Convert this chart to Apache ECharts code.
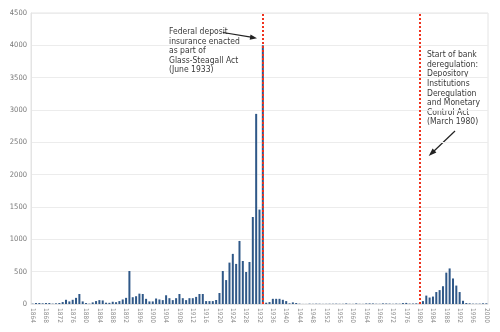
<!DOCTYPE html>
<html><head><meta charset="utf-8">
<script src="https://cdn.jsdelivr.net/npm/echarts@6/dist/echarts.min.js"></script>
<style>html,body{margin:0;padding:0;background:#fff}#c{width:500px;height:332px}</style>
</head><body><div id="c"></div>
<script>
const startYear = 1864, endYear = 2000;
const years = [];
for (let y = startYear; y <= endYear; y++) years.push(String(y));

const failures1864_1903 = [5,15,15,10,15,15,5,10,15,30, 65,40,65,95,155,40,15,5,25,45, 60,55,20,18,35,28,45,70,95,510, 105,120,160,155,80,40,40,85,70,60];
const failures1904_1943 = [135,90,60,90,155,90,60,90,90,110, 155,155,45,45,45,62,170,510,370,640, 775,620,975,665,495,650,1345,2940,1460,4000, 20,30,80,80,80,65,45,10,25,15];
const failures1944_1979 = [5,1,1,5,3,5,4,2,3,4, 4,5,3,3,9,3,2,9,3,2, 8,9,8,4,3,9,8,6,3,6, 4,14,17,6,7,10];
const failures1980_2000 = [11,45,130,100,115,185,215,275,485,550, 395,285,185,50,15,10,5,5,5,10,10];
const failures = [].concat(failures1864_1903, failures1904_1943, failures1944_1979, failures1980_2000);

const yTicks = [0,500,1000,1500,2000,2500,3000,3500,4000,4500];
const eventYears = ['1933','1980'];
const note1Lines = ['Federal deposit','insurance enacted','as part of','Glass-Steagall Act','(June 1933)'];
const note2Lines = ['Start of bank','deregulation:','Depository','Institutions','Deregulation','and Monetary','Control Act','(March 1980)'];

const chart = echarts.init(document.getElementById('c'), null, {renderer:'canvas'});
const noteFont = '"Liberation Sans Narrow","DejaVu Sans Condensed",sans-serif';
const textEls = [];
note1Lines.forEach((t, i) => textEls.push({type: 'text', left: 169, top: 27.5 + i * 9.5,
  style: {text: t, font: '8.5px ' + noteFont, fill: '#3a3a3a'}}));
note2Lines.forEach((t, i) => textEls.push({type: 'text', left: 427, top: 50.5 + i * 9.6,
  style: {text: t, font: '8.5px ' + noteFont, fill: '#3a3a3a'}}));

chart.setOption({
  animation: false,
  backgroundColor: '#fff',
  grid: {left: 31, right: 12, top: 13, bottom: 28, show: true, borderColor: '#e4e4e4', borderWidth: 1},
  xAxis: {
    type: 'category', data: years, boundaryGap: true,
    axisLine: {show: true, lineStyle: {color: '#e4e4e4'}},
    axisTick: {show: false},
    axisLabel: {interval: 3, rotate: -90, fontSize: 6.5, color: '#888', margin: 4,
      fontFamily: noteFont}
  },
  yAxis: {
    type: 'value', min: 0, max: 4500, interval: 500,
    axisLine: {show: true, lineStyle: {color: '#e4e4e4'}},
    axisTick: {show: false},
    splitLine: {lineStyle: {color: '#ececec'}},
    axisLabel: {fontSize: 7.5, color: '#777', margin: 4, fontFamily: noteFont,
      formatter: v => yTicks.includes(v) ? String(v) : ''}
  },
  series: [{
    type: 'bar', data: failures, barCategoryGap: '40%',
    itemStyle: {color: '#2f5888'},
    markLine: {
      silent: true, symbol: ['none','none'], label: {show: false},
      lineStyle: {color: '#f0321e', type: [2,2], width: 2},
      data: eventYears.map(y => ({xAxis: y}))
    }
  }],
  graphic: textEls.concat([
    {type: 'line', shape: {x1: 223, y1: 32.5, x2: 251, y2: 37.2}, style: {stroke: '#222', lineWidth: 1.2}},
    {type: 'polygon', shape: {points: [[257,38.2],[250.5,34.4],[249.7,39.8]]}, style: {fill: '#222'}},
    {type: 'line', shape: {x1: 455, y1: 131, x2: 433, y2: 152}, style: {stroke: '#222', lineWidth: 1.2}},
    {type: 'polygon', shape: {points: [[428.7,156],[436.4,152.4],[432.6,148.5]]}, style: {fill: '#222'}}
  ])
});
</script></body></html>
